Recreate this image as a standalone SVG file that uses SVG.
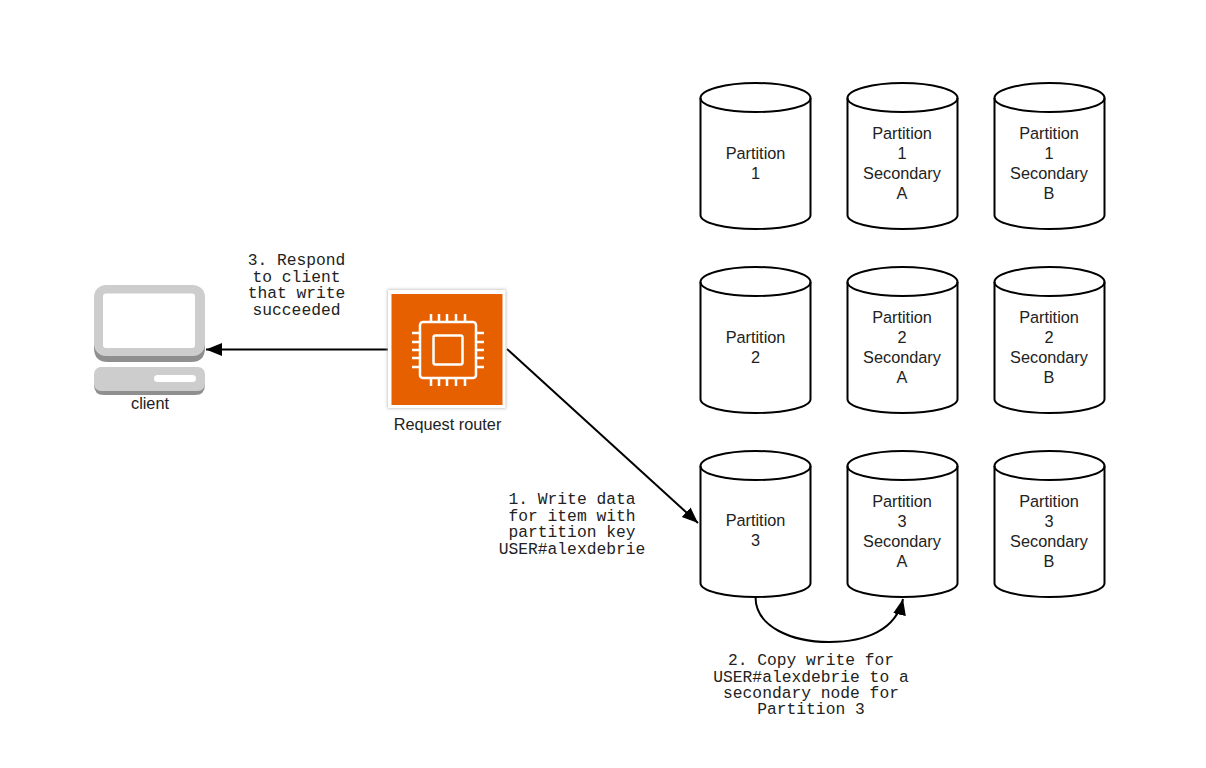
<svg xmlns="http://www.w3.org/2000/svg" xmlns:xlink="http://www.w3.org/1999/xlink" width="1206" height="768" viewBox="0 0 1206 768">
<style>
.s{font-family:"Liberation Sans",Arial,sans-serif;font-size:16.300px;fill:#222;text-anchor:middle}
.m{font-family:"Liberation Mono","Courier New",monospace;font-size:16.300px;fill:#222;text-anchor:middle}
.c{fill:#fff;stroke:#000;stroke-width:2}
.e{fill:none;stroke:#000;stroke-width:2}
</style>
<defs>
<g id="cyl">
<path class="c" d="M700.500 98C700.500 90 725 83 755.500 83C786 83 810.500 90 810.500 98V215C810.500 223 786 229 755.500 229C725 229 700.500 223 700.500 215Z"/>
<path class="e" d="M700.500 98C700.500 106 725 112 755.500 112C786 112 810.500 106 810.500 98"/>
</g>
<filter id="sh" x="-10%" y="-10%" width="120%" height="120%"><feGaussianBlur stdDeviation="1.500"/></filter>
<marker id="a" markerUnits="userSpaceOnUse" markerWidth="18" markerHeight="14" refX="16" refY="6.500" orient="auto"><path d="M0 0L16 6.500L0 13Z" fill="#000"/></marker>
</defs>
<rect width="1206" height="768" fill="#fff"/>
<g id="connectors">
<path class="e" d="M388 349.500H206" marker-end="url(#a)"/>
<path class="e" d="M507 349L698 523" marker-end="url(#a)"/>
<path class="e" d="M755.500 597C755.500 627 792 642 829 642C866 642 896 630 903 599" marker-end="url(#a)"/>
</g>
<g id="client">
<path d="M94 305V348Q94 362 108 362H191Q205 362 205 348V305Z" fill="#8f8f8f"/>
<rect x="94" y="285" width="111" height="71" rx="12" fill="#cdcdcd"/>
<rect x="103" y="293.500" width="92" height="54.500" rx="3" fill="#fff"/>
<path d="M94 375V385Q94 395 104 395H195Q205 395 205 385V375Z" fill="#8f8f8f"/>
<rect x="94" y="367" width="111" height="24" rx="7" fill="#cdcdcd"/>
<rect x="154" y="375" width="42" height="7" rx="3.500" fill="#fff"/>
<text class="s" x="150" y="408.500">client</text>
</g>
<g id="router">
<rect x="387.500" y="289.500" width="118.500" height="119" fill="#bbb" filter="url(#sh)"/>
<rect x="388" y="290" width="117.500" height="118" fill="#fff"/>
<rect x="391.500" y="294" width="111" height="111" fill="#e66000"/>
<g fill="none" stroke="#fff" stroke-width="2.500">
<rect x="420" y="322" width="56" height="56" rx="3"/>
<rect x="433.500" y="335.500" width="29" height="29" rx="2"/>
<path d="M431 321V314M439 321V314M447 321V314M456 321V314M465 321V314M431 386V379M439 386V379M447 386V379M456 386V379M465 386V379M412 333H419M412 342H419M412 350H419M412 358H419M412 367H419M477 333H484M477 342H484M477 350H484M477 358H484M477 367H484"/>
</g>
<text class="s" x="447.500" y="430">Request router</text>
</g>
<g id="p1"><use href="#cyl"/><text class="s" y="158.500"><tspan x="755.500">Partition</tspan><tspan x="755.500" dy="20">1</tspan></text></g>
<g id="p1a"><use href="#cyl" x="147"/><text class="s" y="139"><tspan x="902">Partition</tspan><tspan x="902" dy="20">1</tspan><tspan x="902" dy="20">Secondary</tspan><tspan x="902" dy="20">A</tspan></text></g>
<g id="p1b"><use href="#cyl" x="294"/><text class="s" y="139"><tspan x="1049">Partition</tspan><tspan x="1049" dy="20">1</tspan><tspan x="1049" dy="20">Secondary</tspan><tspan x="1049" dy="20">B</tspan></text></g>
<g id="p2"><use href="#cyl" y="184"/><text class="s" y="342.500"><tspan x="755.500">Partition</tspan><tspan x="755.500" dy="20">2</tspan></text></g>
<g id="p2a"><use href="#cyl" x="147" y="184"/><text class="s" y="323"><tspan x="902">Partition</tspan><tspan x="902" dy="20">2</tspan><tspan x="902" dy="20">Secondary</tspan><tspan x="902" dy="20">A</tspan></text></g>
<g id="p2b"><use href="#cyl" x="294" y="184"/><text class="s" y="323"><tspan x="1049">Partition</tspan><tspan x="1049" dy="20">2</tspan><tspan x="1049" dy="20">Secondary</tspan><tspan x="1049" dy="20">B</tspan></text></g>
<g id="p3"><use href="#cyl" y="368"/><text class="s" y="526"><tspan x="755.500">Partition</tspan><tspan x="755.500" dy="20">3</tspan></text></g>
<g id="p3a"><use href="#cyl" x="147" y="368"/><text class="s" y="507"><tspan x="902">Partition</tspan><tspan x="902" dy="20">3</tspan><tspan x="902" dy="20">Secondary</tspan><tspan x="902" dy="20">A</tspan></text></g>
<g id="p3b"><use href="#cyl" x="294" y="368"/><text class="s" y="507"><tspan x="1049">Partition</tspan><tspan x="1049" dy="20">3</tspan><tspan x="1049" dy="20">Secondary</tspan><tspan x="1049" dy="20">B</tspan></text></g>
<g id="label-3">
<text class="m" y="265"><tspan x="296.500">3. Respond</tspan><tspan x="296.500" dy="16.500">to client</tspan><tspan x="296.500" dy="16.500">that write</tspan><tspan x="296.500" dy="16.500">succeeded</tspan></text>
</g>
<g id="label-1">
<text class="m" y="504"><tspan x="572">1. Write data</tspan><tspan x="572" dy="16.500">for item with</tspan><tspan x="572" dy="16.500">partition key</tspan><tspan x="572" dy="16.500">USER#alexdebrie</tspan></text>
</g>
<g id="label-2">
<text class="m" y="665"><tspan x="811">2. Copy write for</tspan><tspan x="811" dy="16.500">USER#alexdebrie to a</tspan><tspan x="811" dy="16.500">secondary node for</tspan><tspan x="811" dy="16">Partition 3</tspan></text>
</g>
</svg>
